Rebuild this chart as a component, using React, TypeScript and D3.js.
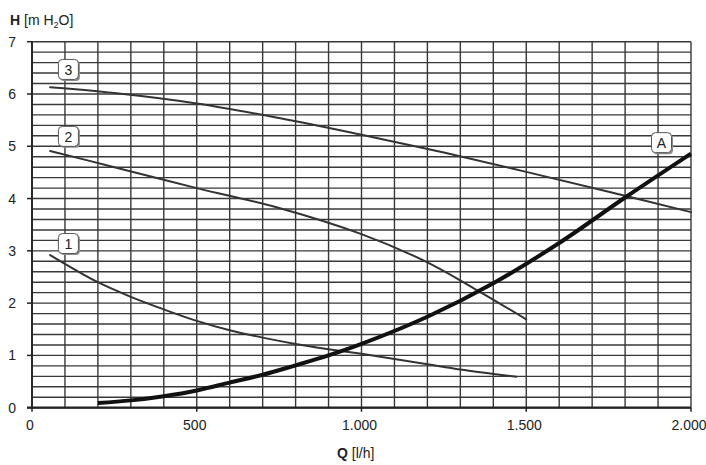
import React from "react";
import * as d3 from "d3";

const xTicks = [0, 500, 1000, 1500, 2000];
const xTickLabels = ["0", "500", "1.000", "1.500", "2.000"];
const yTicks = [0, 1, 2, 3, 4, 5, 6, 7];

const curve1Q = [55, 200, 300, 400, 500, 600, 700, 800, 900, 1000, 1200, 1300, 1470];
const curve1H = [2.92, 2.4, 2.12, 1.88, 1.66, 1.48, 1.34, 1.22, 1.12, 1.03, 0.83, 0.73, 0.59];

const curve2Q = [55, 250, 500, 750, 1000, 1200, 1350, 1500];
const curve2H = [4.91, 4.6, 4.2, 3.82, 3.32, 2.78, 2.25, 1.69];

const curve3Q = [55, 250, 500, 750, 1000, 1250, 1500, 1750, 2000];
const curve3H = [6.13, 6.02, 5.82, 5.54, 5.22, 4.88, 4.51, 4.13, 3.74];

const curveAQ = [200, 300, 400, 500, 600, 700, 800, 900, 1000, 1200, 1400, 1600, 1800, 2000];
const curveAH = [0.09, 0.14, 0.22, 0.33, 0.48, 0.63, 0.81, 1.0, 1.22, 1.74, 2.38, 3.15, 4.02, 4.86];

const labelNames = ["1", "2", "3", "A"];
const labelQ = [112, 112, 112, 1912];
const labelH = [3.13, 5.18, 6.46, 5.06];

const FONT = "'Liberation Sans', Arial, sans-serif";

export default function App() {
  const W = 706, H = 465;
  const x = d3.scaleLinear().domain([0, 2000]).range([32, 691]);
  const y = d3.scaleLinear().domain([0, 7]).range([407.7, 41.7]);

  const vGrid = d3.range(0, 2001, 100);
  const hGrid = d3.range(0, 36).map((i) => i * 0.2);

  const line = d3
    .line<[number, number]>()
    .x((d) => x(d[0]))
    .y((d) => y(d[1]))
    .curve(d3.curveCatmullRom.alpha(0.5));

  const zip = (q: number[], h: number[]) => q.map((v, i) => [v, h[i]] as [number, number]);

  const thin = [zip(curve1Q, curve1H), zip(curve2Q, curve2H), zip(curve3Q, curve3H)];
  const thick = zip(curveAQ, curveAH);

  return (
    <svg
      width={W}
      height={H}
      style={{ position: "fixed", left: 0, top: 0, background: "#fff" }}
      fontFamily={FONT}
    >
      <rect x={0} y={0} width={W} height={H} fill="#fff" />
      {/* grid */}
      <g stroke="#383838" strokeWidth={1.4}>
        {hGrid.map((v, i) => (
          <line key={"h" + i} x1={x(0)} x2={x(2000)} y1={y(v)} y2={y(v)} />
        ))}
        {vGrid.map((v, i) => (
          <line key={"v" + i} x1={x(v)} x2={x(v)} y1={y(0)} y2={y(7)} />
        ))}
      </g>
      {/* axis ticks */}
      <g stroke="#222" strokeWidth={1.5}>
        {yTicks.map((v) => (
          <line key={"yt" + v} x1={x(0) - 5} x2={x(0)} y1={y(v)} y2={y(v)} />
        ))}
        {xTicks.map((v) => (
          <line key={"xt" + v} x1={x(v)} x2={x(v)} y1={y(0)} y2={y(0) + 4} />
        ))}
        <line x1={x(0) - 5} x2={x(2000)} y1={y(0)} y2={y(0)} strokeWidth={2.2} />
        <line x1={x(0)} x2={x(0)} y1={y(0)} y2={y(7)} strokeWidth={1.8} />
      </g>
      {/* tick labels */}
      <g fontSize={14} fill="#222">
        {yTicks.map((v) => (
          <text key={"yl" + v} x={16} y={y(v)} dy="0.36em" textAnchor="end">
            {v}
          </text>
        ))}
        {xTicks.map((v, i) => (
          <text key={"xl" + v} x={x(v) - 2} y={430} textAnchor="middle">
            {xTickLabels[i]}
          </text>
        ))}
      </g>
      {/* axis titles */}
      <text x={10} y={25} fontSize={14} fill="#222">
        <tspan fontWeight="bold">H</tspan>
        <tspan> [m H</tspan>
        <tspan fontSize={9} dy={3}>2</tspan>
        <tspan dy={-3}>O]</tspan>
      </text>
      <text x={337} y={458} fontSize={14} fill="#222">
        <tspan fontWeight="bold">Q</tspan>
        <tspan> [l/h]</tspan>
      </text>
      {/* curves */}
      <g fill="none" stroke="#333" strokeWidth={2} strokeLinecap="round">
        {thin.map((c, i) => (
          <path key={"c" + i} d={line(c) || ""} />
        ))}
      </g>
      <path d={line(thick) || ""} fill="none" stroke="#111" strokeWidth={4} />
      {/* labels */}
      {labelNames.map((n, i) => {
        const cx = x(labelQ[i]);
        const cy = y(labelH[i]);
        return (
          <g key={"lab" + n}>
            <rect x={cx - 9} y={cy - 9} width={20} height={20} rx={4} fill="#8a8a8a" />
            <rect x={cx - 10.5} y={cy - 10.5} width={20} height={20} rx={4} fill="#fff" stroke="#555" strokeWidth={1} />
            <text x={cx - 0.5} y={cy} dy="0.36em" textAnchor="middle" fontSize={14} fill="#222">
              {n}
            </text>
          </g>
        );
      })}
    </svg>
  );
}
